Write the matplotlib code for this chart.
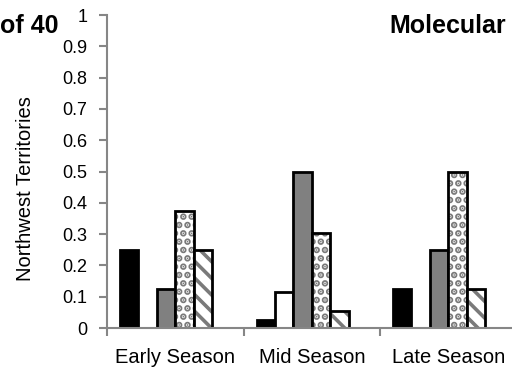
import numpy as np
import matplotlib
matplotlib.use("Agg")
import matplotlib.pyplot as plt

plt.rcParams['font.family'] = ['Liberation Sans', 'DejaVu Sans']
plt.rcParams['hatch.linewidth'] = 2.6

categories = ["Early Season", "Mid Season", "Late Season"]
# five visible series (sixth slot in the cluster is empty)
black_vals = [0.25, 0.025, 0.125]
white_vals = [np.nan, 0.115, np.nan]
gray_vals = [0.125, 0.5, 0.25]
dotted_vals = [0.375, 0.305, 0.5]
striped_vals = [0.25, 0.055, 0.125]

series = [
    (black_vals, "black", None, 0),
    (white_vals, "white", None, 0),
    (gray_vals, "#808080", None, 0),
    (dotted_vals, "white", "..", 3.4),
    (striped_vals, "white", "\\\\", 2.6),
]

fig = plt.figure(figsize=(5.12, 3.67), dpi=100)
ax = fig.add_axes([0.209, 0.106, 0.80, 0.853])

x = np.arange(len(categories))
n_slots = 6
w = 0.135
for i, (vals, fc, hatch, hlw) in enumerate(series):
    off = (i - (n_slots - 1) / 2) * w
    if hatch:
        # gray pattern first, black outline on top
        with plt.rc_context({'hatch.linewidth': hlw}):
            ax.bar(x + off, vals, width=w, facecolor=fc, edgecolor="#7a7a7a",
                   linewidth=0, hatch=hatch)
        ax.bar(x + off, vals, width=w, fill=False, edgecolor="black", linewidth=2.0)
    else:
        ax.bar(x + off, vals, width=w, facecolor=fc, edgecolor="black", linewidth=2.0)

ax.set_xlim(-0.5, 2.5)
ax.set_ylim(0, 1)
ax.set_yticks(np.arange(0, 1.01, 0.1))
ax.set_yticklabels(["0", "0.1", "0.2", "0.3", "0.4", "0.5", "0.6", "0.7", "0.8", "0.9", "1"])
ax.set_xticks(x)
ax.set_xticklabels(categories, fontsize=14.5)
ax.set_xticks([-0.5, 0.5, 1.5, 2.5], minor=True)
ax.tick_params(axis="x", which="major", length=0, pad=14)
ax.tick_params(axis="x", which="minor", length=6, color="#868686", width=1.5)
ax.tick_params(axis="y", labelsize=13, length=6, color="#868686", width=1.5, pad=8)

for s in ["top", "right"]:
    ax.spines[s].set_visible(False)
for s in ["left", "bottom"]:
    ax.spines[s].set_color("#868686")
    ax.spines[s].set_linewidth(1.5)

ax.set_ylabel("Northwest Territories", fontsize=14.5)
ax.yaxis.set_label_coords(-0.175, 0.447)

fig.text(0.114, 0.93, "of 40", fontsize=18, fontweight="bold", ha="right", va="center")
fig.text(0.76, 0.93, "Molecular", fontsize=18, fontweight="bold", ha="left", va="center")

fig.savefig("out.png", dpi=100)
